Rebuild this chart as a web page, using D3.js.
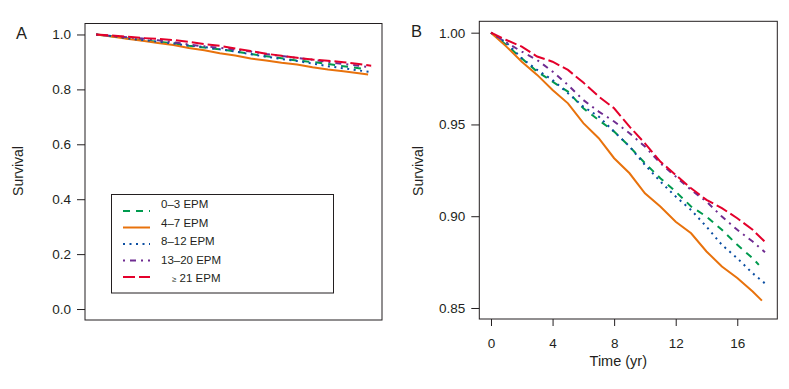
<!DOCTYPE html>
<html><head><meta charset="utf-8">
<script src="https://cdn.jsdelivr.net/npm/d3@7"></script>
<style>
body{margin:0;background:#fff;}
svg text{font-family:"Liberation Sans",Arial,sans-serif;fill:#231F20;}
</style></head>
<body><svg id="c" width="789" height="389"></svg>
<script>
// ---- data ----
const groups = ["0\u20133 EPM", "4\u20137 EPM", "8\u201312 EPM", "13\u201320 EPM", "21 EPM"];
const colors = ["#009A4E", "#E8720C", "#0B4EA2", "#6F2C91", "#E4002B"];
const dashes = ["7,6", null, "2,4.5", "2,5,6,5", "12,4"];
const years = [0,1,2,3,4,5,6,7,8,9,10,11,12,13,14,15,16,17];
const surv0_3  = [1,0.9933,0.986,0.9788,0.9733,0.9679,0.9588,0.9524,0.9461,0.938,0.9289,0.9207,0.9134,0.9053,0.8998,0.8926,0.8844,0.8771];
const surv4_7  = [1,0.9924,0.9842,0.977,0.9688,0.9615,0.9507,0.9425,0.9316,0.9234,0.9125,0.9053,0.897,0.8907,0.8808,0.8726,0.8663,0.859];
const surv8_12 = [1,0.9946,0.986,0.9797,0.9742,0.967,0.9597,0.9543,0.9461,0.938,0.928,0.9189,0.9107,0.9034,0.8943,0.8844,0.8771,0.8689];
const surv13_20= [1,0.9946,0.9897,0.9851,0.9788,0.9715,0.9633,0.957,0.9516,0.9452,0.938,0.9289,0.9216,0.9143,0.908,0.8998,0.8926,0.8862];
const surv21   = [1,0.996,0.9924,0.987,0.9842,0.9797,0.9728,0.9652,0.9588,0.9488,0.9397,0.9298,0.9225,0.9152,0.9089,0.9044,0.8989,0.8926];
const endTime  = [17.4, 17.6, 17.8, 17.8, 17.8];
const endSurv  = [0.8735, 0.854, 0.8634, 0.8804, 0.886];
const yTicksA = [0, 0.2, 0.4, 0.6, 0.8, 1.0];
const yTicksB = [0.85, 0.90, 0.95, 1.00];
const xTicksB = [0, 4, 8, 12, 16];

const allSurv = [surv0_3, surv4_7, surv8_12, surv13_20, surv21];
const series = allSurv.map((vals, i) => {
  const pts = years.map((t, j) => [t, vals[j]]);
  pts.push([endTime[i], endSurv[i]]);
  return pts;
});

const svg = d3.select("#c");
const ink = "#231F20";

function panel(opt) {
  const x = d3.scaleLinear().domain(opt.xd).range([opt.x0, opt.x1]);
  const y = d3.scaleLinear().domain(opt.yd).range([opt.y1, opt.y0]);
  const g = svg.append("g");
  // curves
  const line = d3.line().x(d => x(d[0])).y(d => y(d[1]));
  series.forEach((s, i) => {
    g.append("path").attr("d", line(s)).attr("fill", "none")
      .attr("stroke", colors[i]).attr("stroke-width", 2)
      .attr("stroke-dasharray", dashes[i]);
  });
  // box
  g.append("rect").attr("x", opt.x0).attr("y", opt.y0)
    .attr("width", opt.x1 - opt.x0).attr("height", opt.y1 - opt.y0)
    .attr("fill", "none").attr("stroke", ink).attr("stroke-width", 1);
  // y axis
  const ya = g.append("g").attr("transform", `translate(${opt.x0},0)`)
    .call(d3.axisLeft(y).tickValues(opt.yt).tickFormat(opt.yf).tickSize(8).tickPadding(6));
  ya.select(".domain").remove();
  ya.selectAll("line").attr("stroke", ink);
  ya.selectAll("text").attr("font-size", 13.5).attr("fill", ink)
    .attr("font-family", "Liberation Sans, Arial, sans-serif");
  if (opt.xt) {
    const xa = g.append("g").attr("transform", `translate(0,${opt.y1})`)
      .call(d3.axisBottom(x).tickValues(opt.xt).tickFormat(d3.format("d")).tickSize(7).tickPadding(12));
    xa.select(".domain").remove();
    xa.selectAll("line").attr("stroke", ink);
    xa.selectAll("text").attr("font-size", 13.5).attr("fill", ink)
      .attr("font-family", "Liberation Sans, Arial, sans-serif");
    g.append("text").attr("x", (opt.x0 + opt.x1) / 2 - 10).attr("y", 366)
      .attr("text-anchor", "middle").attr("font-size", 14.5).text("Time (yr)");
  }
  g.append("text").attr("transform", `translate(${opt.ylabX},171) rotate(-90)`)
    .attr("text-anchor", "middle").attr("font-size", 14).text("Survival");
  g.append("text").attr("x", opt.letterX).attr("y", opt.letterY)
    .attr("font-size", 16.5).text(opt.letter);
  return g;
}

const gA = panel({x0: 85, x1: 382, y0: 23.5, y1: 320, xd: [-0.72, 18.5], yd: [-0.04, 1.04],
  yt: yTicksA, yf: d3.format(".1f"), ylabX: 23, letter: "A", letterX: 16, letterY: 39});
panel({x0: 479.3, x1: 777.3, y0: 21.3, y1: 319, xd: [-0.76, 18.6], yd: [0.844, 1.0062],
  yt: yTicksB, yf: d3.format(".2f"), xt: xTicksB, ylabX: 423, letter: "B", letterX: 411, letterY: 37});

// legend (panel A)
const leg = gA.append("g");
leg.append("rect").attr("x", 111.5).attr("y", 194.5).attr("width", 222).attr("height", 98.5)
  .attr("fill", "#fff").attr("stroke", ink).attr("stroke-width", 1);
const lineY = d3.scaleLinear().domain([0, 4]).range([211, 277]);
const textY = d3.scaleLinear().domain([0, 4]).range([208, 282]);
groups.forEach((name, i) => {
  leg.append("line").attr("x1", 123).attr("x2", 150).attr("y1", lineY(i)).attr("y2", lineY(i))
    .attr("stroke", colors[i]).attr("stroke-width", 2).attr("stroke-dasharray", dashes[i]);
  const t = leg.append("text").attr("x", i === 4 ? 172 : 161).attr("y", textY(i)).attr("font-size", 11.5);
  if (i === 4) {
    t.append("tspan").attr("font-size", 8).text("\u2265");
    t.append("tspan").text(" " + name);
  } else {
    t.text(name);
  }
});
</script></body></html>
